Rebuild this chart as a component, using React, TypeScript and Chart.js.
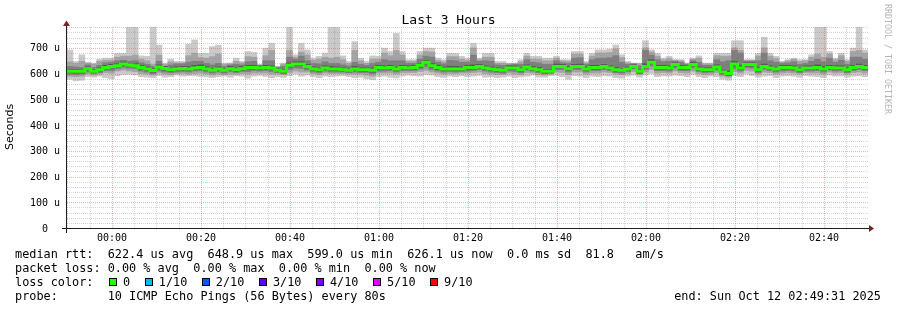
import React, { useEffect, useRef } from 'react';
import { Chart, registerables } from 'chart.js';

Chart.register(...registerables);

// ---------------- data ----------------
const TITLE = 'Last 3 Hours';
const Y_TITLE = 'Seconds';
const STEP_SECONDS = 80;
const WINDOW_START_MIN = -10.1; // minutes relative to 00:00
const WINDOW_END_MIN = 169.9;
const Y_MAX = 785; // microseconds

const xTickMinutes = [0, 20, 40, 60, 80, 100, 120, 140, 160];
const xTickLabels = ['00:00', '00:20', '00:40', '01:00', '01:20', '01:40', '02:00', '02:20', '02:40'];
const yTickValues = [0, 100, 200, 300, 400, 500, 600, 700];
const yTickLabels = ['0  ', '100 u', '200 u', '300 u', '400 u', '500 u', '600 u', '700 u'];

// median RTT per 80 s step (microseconds)
const medianRtt = [
  609, 609, 609, 619, 609, 615, 624, 628, 631, 637, 633, 631, 624, 618, 612,
  626, 620, 615, 618, 620, 618, 622, 624, 618, 613, 618, 613, 619, 615, 619,
  624, 624, 622, 624, 622, 613, 609, 632, 637, 637, 628, 618, 615, 622, 618,
  618, 615, 613, 618, 615, 615, 613, 624, 622, 624, 618, 624, 622, 624, 632,
  644, 631, 624, 618, 618, 618, 618, 624, 624, 628, 622, 618, 615, 613, 622,
  622, 615, 626, 619, 615, 609, 609, 628, 628, 619, 628, 628, 618, 624, 624,
  628, 622, 615, 613, 618, 628, 609, 628, 644, 624, 624, 622, 635, 624, 624,
  635, 618, 615, 615, 626, 606, 600, 637, 622, 635, 635, 615, 628, 622, 618,
  624, 624, 622, 615, 622, 622, 624, 618, 624, 622, 622, 615, 624, 628, 624,
];
// slowest ping per step
const pingMax = [
  692, 647, 673, 644, 641, 656, 660, 660, 679, 679, 780, 780, 669, 667, 780,
  711, 641, 656, 647, 647, 715, 731, 679, 679, 705, 711, 641, 641, 660, 647,
  686, 682, 635, 699, 718, 628, 641, 780, 673, 718, 692, 660, 667, 680, 780,
  780, 669, 647, 724, 660, 647, 669, 667, 699, 686, 756, 686, 654, 654, 686,
  699, 699, 660, 654, 679, 679, 667, 660, 718, 660, 679, 679, 647, 647, 641,
  641, 654, 679, 667, 667, 660, 660, 667, 654, 654, 686, 686, 647, 679, 692,
  692, 695, 711, 673, 647, 641, 641, 728, 692, 679, 660, 667, 654, 654, 641,
  660, 669, 641, 641, 679, 679, 679, 728, 728, 654, 654, 679, 741, 679, 667,
  647, 654, 660, 654, 654, 673, 780, 780, 686, 660, 679, 654, 699, 780, 692,
];
// fastest ping per step
const pingMin = [
  578, 572, 574, 588, 586, 590, 584, 580, 592, 596, 597, 595, 588, 586, 584,
  592, 586, 588, 594, 590, 592, 591, 589, 587, 584, 588, 590, 586, 592, 590,
  582, 590, 593, 589, 584, 588, 585, 592, 598, 590, 594, 588, 584, 590, 588,
  590, 592, 588, 584, 586, 580, 576, 588, 590, 586, 583, 590, 594, 592, 590,
  596, 594, 588, 585, 590, 588, 592, 588, 590, 593, 586, 588, 584, 586, 590,
  584, 587, 590, 594, 586, 586, 592, 593, 588, 578, 592, 590, 584, 590, 588,
  592, 590, 584, 582, 590, 594, 586, 594, 600, 588, 591, 590, 594, 592, 588,
  597, 588, 584, 590, 588, 578, 574, 592, 588, 598, 592, 586, 590, 592, 584,
  590, 592, 590, 586, 592, 590, 588, 584, 594, 590, 591, 586, 590, 592, 588,
];
// 2nd fastest / 2nd slowest ping
const ping2 = [
  590, 588, 590, 598, 594, 598, 604, 602, 610, 614, 610, 608, 600, 598, 594,
  602, 598, 596, 600, 600, 598, 600, 602, 598, 594, 598, 596, 598, 598, 600,
  598, 602, 602, 602, 598, 598, 596, 604, 610, 606, 606, 600, 596, 602, 600,
  600, 600, 598, 598, 598, 594, 590, 602, 602, 602, 598, 604, 604, 604, 608,
  612, 606, 602, 598, 600, 600, 602, 602, 604, 606, 600, 598, 596, 596, 602,
  598, 596, 604, 602, 596, 594, 598, 606, 604, 596, 606, 606, 598, 602, 602,
  606, 604, 598, 596, 600, 608, 596, 606, 616, 602, 604, 602, 610, 604, 602,
  610, 600, 596, 598, 604, 590, 586, 608, 602, 612, 610, 598, 606, 604, 598,
  602, 604, 602, 598, 604, 602, 602, 598, 606, 602, 604, 598, 604, 606, 602,
];
const ping9 = [
  646, 640, 648, 640, 636, 648, 652, 652, 664, 668, 668, 672, 656, 650, 636,
  672, 636, 646, 642, 642, 670, 680, 662, 660, 666, 676, 636, 638, 648, 642,
  666, 664, 634, 670, 690, 626, 636, 690, 664, 684, 672, 652, 656, 664, 660,
  664, 654, 640, 690, 650, 640, 656, 656, 680, 670, 690, 672, 648, 648, 672,
  686, 684, 652, 646, 666, 666, 656, 652, 700, 654, 664, 664, 640, 640, 638,
  639, 646, 668, 656, 656, 650, 650, 660, 650, 648, 676, 676, 642, 668, 680,
  680, 682, 696, 662, 642, 640, 638, 700, 684, 668, 654, 658, 652, 650, 639,
  656, 660, 638, 638, 670, 668, 668, 700, 690, 652, 652, 668, 700, 668, 658,
  645, 650, 656, 648, 650, 664, 676, 664, 676, 654, 670, 648, 686, 690, 680,
];
// 3rd fastest / 3rd slowest ping
const ping3 = [
  597, 596, 598, 606, 600, 604, 612, 612, 618, 624, 621, 620, 610, 606, 600,
  610, 606, 604, 606, 608, 606, 610, 612, 606, 602, 606, 602, 608, 604, 608,
  608, 612, 610, 612, 608, 604, 600, 616, 622, 620, 614, 606, 604, 610, 606,
  606, 606, 604, 606, 604, 604, 600, 610, 610, 612, 606, 612, 612, 612, 618,
  626, 616, 610, 606, 608, 606, 608, 610, 612, 616, 610, 606, 604, 602, 610,
  608, 604, 614, 610, 604, 600, 602, 616, 616, 606, 616, 616, 606, 612, 612,
  616, 612, 604, 602, 608, 618, 600, 616, 630, 612, 612, 610, 622, 612, 612,
  622, 608, 604, 606, 614, 596, 592, 620, 610, 624, 622, 604, 616, 612, 606,
  610, 612, 610, 604, 610, 610, 612, 606, 614, 610, 612, 604, 612, 616, 612,
];
const ping8 = [
  628, 626, 624, 634, 624, 632, 642, 644, 650, 652, 648, 650, 642, 636, 628,
  648, 628, 634, 638, 638, 644, 648, 648, 640, 634, 640, 628, 634, 636, 634,
  646, 648, 632, 650, 650, 624, 628, 664, 656, 668, 650, 640, 638, 646, 640,
  640, 634, 630, 644, 636, 632, 640, 644, 654, 650, 650, 650, 640, 640, 656,
  668, 664, 644, 638, 652, 650, 644, 644, 672, 648, 650, 648, 634, 632, 634,
  636, 636, 654, 644, 642, 636, 636, 650, 642, 640, 660, 662, 636, 654, 660,
  660, 662, 670, 644, 636, 638, 630, 690, 672, 654, 646, 648, 648, 644, 636,
  650, 644, 632, 632, 654, 646, 650, 690, 680, 648, 648, 650, 680, 650, 644,
  640, 642, 646, 636, 640, 648, 656, 646, 660, 644, 652, 636, 664, 664, 656,
];
// 4th fastest / 4th slowest ping
const ping4 = [
  604, 603, 603, 613, 604, 610, 619, 622, 626, 631, 628, 626, 618, 612, 606,
  620, 614, 609, 612, 614, 612, 616, 618, 612, 607, 612, 607, 613, 609, 613,
  618, 618, 616, 618, 616, 607, 603, 626, 631, 631, 622, 612, 609, 616, 612,
  612, 609, 607, 612, 609, 609, 606, 618, 616, 618, 612, 618, 616, 618, 625,
  637, 624, 617, 612, 612, 612, 612, 617, 618, 622, 616, 612, 609, 607, 616,
  616, 609, 620, 613, 609, 603, 603, 622, 622, 613, 622, 622, 612, 618, 618,
  622, 616, 609, 607, 612, 622, 603, 622, 638, 618, 618, 616, 629, 618, 618,
  629, 612, 609, 609, 620, 600, 594, 631, 616, 629, 629, 609, 622, 616, 612,
  618, 618, 616, 609, 616, 616, 618, 612, 618, 616, 616, 609, 618, 622, 618,
];
const ping7 = [
  616, 616, 615, 626, 616, 622, 632, 636, 639, 645, 640, 640, 632, 626, 620,
  634, 628, 622, 626, 628, 628, 632, 634, 626, 620, 626, 620, 628, 622, 628,
  632, 632, 628, 632, 630, 619, 616, 642, 646, 646, 636, 626, 622, 630, 628,
  626, 622, 620, 628, 622, 622, 622, 632, 630, 632, 626, 632, 630, 632, 640,
  652, 640, 632, 626, 628, 628, 626, 632, 634, 636, 630, 626, 622, 620, 630,
  630, 622, 634, 628, 624, 616, 616, 638, 636, 628, 636, 638, 626, 632, 632,
  636, 630, 624, 620, 626, 634, 616, 640, 654, 632, 632, 630, 642, 632, 630,
  644, 626, 622, 622, 634, 614, 610, 648, 632, 642, 642, 624, 638, 630, 626,
  632, 632, 630, 622, 630, 630, 634, 628, 632, 630, 630, 622, 632, 638, 632,
];

// summary legend values
const rttStats = [622.4, 648.9, 599.0, 626.1]; // avg, max, min, now (us)
const rttSdMs = 0.0;
const rttAmPerS = 81.8;
const lossStats = [0, 0, 0, 0]; // avg, max, min, now (%)
const lossLabels = ['0', '1/10', '2/10', '3/10', '4/10', '5/10', '9/10'];
const lossColors = ['#26ff00', '#00b8ff', '#0059ff', '#5e00ff', '#7e00ff', '#dd00ff', '#ff0000'];
const probeText = '10 ICMP Echo Pings (56 Bytes) every 80s';
const endText = 'end: Sun Oct 12 02:49:31 2025';
const watermark = 'RRDTOOL / TOBI OETIKER';

// ---------------- drawing helpers ----------------
const MONO = '"DejaVu Sans Mono", monospace';

function drawGrid(chart: any) {
  const { ctx, chartArea: a, scales } = chart;
  const xs = scales.x;
  const ys = scales.y;
  ctx.save();
  ctx.beginPath();
  ctx.rect(a.left, a.top, a.right - a.left, a.bottom - a.top);
  ctx.clip();
  ctx.lineWidth = 1;
  ctx.setLineDash([1, 1]);
  const minor = 'rgba(143,143,143,0.38)';
  const major = 'rgba(222,79,79,0.42)';
  const vline = (t: number, c: string) => {
    const px = Math.round(xs.getPixelForValue(t)) + 0.5;
    ctx.strokeStyle = c;
    ctx.beginPath();
    ctx.moveTo(px, a.bottom);
    ctx.lineTo(px, a.top);
    ctx.stroke();
  };
  const hline = (v: number, c: string) => {
    const py = Math.round(ys.getPixelForValue(v)) + 0.5;
    ctx.strokeStyle = c;
    ctx.beginPath();
    ctx.moveTo(a.left, py);
    ctx.lineTo(a.right, py);
    ctx.stroke();
  };
  for (let t = Math.ceil(WINDOW_START_MIN / 5) * 5; t <= WINDOW_END_MIN; t += 5) {
    if (t % 20 !== 0) vline(t, minor);
  }
  for (let v = 20; v <= Y_MAX; v += 20) {
    if (v % 100 !== 0) hline(v, minor);
  }
  xTickMinutes.forEach((t) => vline(t, major));
  yTickValues.forEach((v) => { if (v > 0) hline(v, major); });
  ctx.restore();
}

function drawFrame(chart: any) {
  const { ctx, chartArea: a } = chart;
  ctx.save();
  ctx.setLineDash([]);
  ctx.lineWidth = 1;
  ctx.strokeStyle = '#1f1f1f';
  const ax = a.left - 0.5;
  const ay = a.bottom + 0.5;
  ctx.beginPath();
  ctx.moveTo(a.left - 5, ay);
  ctx.lineTo(a.right + 1, ay);
  ctx.stroke();
  ctx.beginPath();
  ctx.moveTo(ax, a.bottom + 5);
  ctx.lineTo(ax, a.top - 1);
  ctx.stroke();
  ctx.fillStyle = '#801f1f';
  ctx.beginPath();
  ctx.moveTo(a.right + 1, ay - 3.5);
  ctx.lineTo(a.right + 6, ay);
  ctx.lineTo(a.right + 1, ay + 3.5);
  ctx.closePath();
  ctx.fill();
  ctx.beginPath();
  ctx.moveTo(ax - 3.5, a.top);
  ctx.lineTo(ax, a.top - 5.5);
  ctx.lineTo(ax + 3.5, a.top);
  ctx.closePath();
  ctx.fill();
  ctx.restore();
}

function drawTexts(chart: any) {
  const { ctx } = chart;
  ctx.save();
  ctx.fillStyle = '#000';
  ctx.textBaseline = 'alphabetic';
  ctx.font = `13px ${MONO}`;
  ctx.textAlign = 'center';
  ctx.fillText(TITLE, chart.width / 2, 24);

  const LX = 15;
  const CW = 7.134;
  ctx.font = `11.85px ${MONO}`;
  ctx.textAlign = 'left';
  const f1 = (n: number) => n.toFixed(1);
  const f2 = (n: number) => n.toFixed(2);
  const line1 = `median rtt:  ${f1(rttStats[0])} us avg  ${f1(rttStats[1])} us max  ${f1(rttStats[2])} us min  ${f1(rttStats[3])} us now  ${f1(rttSdMs)} ms sd  ${f1(rttAmPerS)}   am/s`;
  const line2 = `packet loss: ${f2(lossStats[0])} % avg  ${f2(lossStats[1])} % max  ${f2(lossStats[2])} % min  ${f2(lossStats[3])} % now`;
  ctx.fillText(line1, LX, 258);
  ctx.fillText(line2, LX, 272);
  ctx.fillText('loss color:', LX, 286);
  let col = 13.2;
  lossLabels.forEach((lab, i) => {
    const sx = Math.round(LX + col * CW);
    ctx.fillStyle = lossColors[i];
    ctx.fillRect(sx, 278, 8, 8);
    ctx.strokeStyle = '#000';
    ctx.lineWidth = 1;
    ctx.strokeRect(sx + 0.5, 278.5, 7, 7);
    ctx.fillStyle = '#000';
    ctx.fillText(lab, LX + (col + 1.95) * CW, 286);
    col += 1.95 + lab.length + 2.05;
  });
  ctx.fillText(`probe:       ${probeText}`, LX, 300);
  ctx.textAlign = 'right';
  ctx.fillText(endText, 881, 300);

  ctx.translate(887.5, 4);
  ctx.rotate(Math.PI / 2);
  ctx.font = `8.3px ${MONO}`;
  ctx.fillStyle = '#b4b4b4';
  ctx.textAlign = 'left';
  ctx.textBaseline = 'middle';
  ctx.fillText(watermark, 0, 0);
  ctx.restore();
}

const rrdPlugin = {
  id: 'rrdLook',
  beforeDatasetDraw(chart: any, args: any) {
    if (args.index === 0) drawGrid(chart);
  },
  afterDraw(chart: any) {
    drawFrame(chart);
    drawTexts(chart);
  },
};

export default function App() {
  const ref = useRef<HTMLCanvasElement>(null);

  useEffect(() => {
    document.body.style.margin = '0';
    const canvas = ref.current;
    if (!canvas) return;
    const stepMin = STEP_SECONDS / 60;
    const center = (i: number) => WINDOW_START_MIN + (i + 0.5) * stepMin;
    const band = (lo: number[], hi: number[]) => lo.map((v, i) => ({ x: center(i), y: [v, hi[i]] }));
    const medianPts = medianRtt.map((v, i) => ({ x: WINDOW_START_MIN + i * stepMin, y: v }));
    medianPts.push({ x: WINDOW_START_MIN + medianRtt.length * stepMin, y: medianRtt[medianRtt.length - 1] });

    const barCommon = {
      barPercentage: 1,
      categoryPercentage: 1,
      borderWidth: 0,
      grouped: false,
    };

    const chart = new Chart(canvas, {
      type: 'bar',
      data: {
        datasets: [
          {
            type: 'line',
            label: 'median',
            data: medianPts,
            borderColor: lossColors[0],
            borderWidth: 3,
            pointRadius: 0,
            stepped: 'before',
            fill: false,
            tension: 0,
            borderCapStyle: 'butt',
            borderJoinStyle: 'miter',
          } as any,
          { label: 'p4-p7', data: band(ping4, ping7), backgroundColor: '#585858', ...barCommon } as any,
          { label: 'p3-p8', data: band(ping3, ping8), backgroundColor: '#7e7e7e', ...barCommon } as any,
          { label: 'p2-p9', data: band(ping2, ping9), backgroundColor: '#a4a4a4', ...barCommon } as any,
          { label: 'min-max', data: band(pingMin, pingMax), backgroundColor: '#cacaca', ...barCommon } as any,
        ],
      },
      options: {
        responsive: false,
        animation: false,
        devicePixelRatio: 1,
        events: [],
        layout: { padding: { left: 0, top: 26, right: 29, bottom: 0 } },
        plugins: {
          legend: { display: false },
          tooltip: { enabled: false },
          title: { display: false },
        },
        scales: {
          x: {
            type: 'linear',
            min: WINDOW_START_MIN,
            max: WINDOW_END_MIN,
            offset: false,
            grid: { display: false, drawTicks: false, offset: false },
            border: { display: false },
            afterFit: (s: any) => { s.height = 82; },
            afterBuildTicks: (s: any) => { s.ticks = xTickMinutes.map((v) => ({ value: v })); },
            ticks: {
              autoSkip: false,
              maxRotation: 0,
              minRotation: 0,
              padding: 4,
              color: '#000',
              font: { family: 'DejaVu Sans Mono', size: 10 },
              callback: (v: any) => {
                const k = xTickMinutes.indexOf(Number(v));
                return k >= 0 ? xTickLabels[k] : '';
              },
            },
          },
          y: {
            type: 'linear',
            min: 0,
            max: Y_MAX,
            grid: { display: false, drawTicks: false },
            border: { display: false },
            afterFit: (s: any) => { s.width = 67; },
            afterBuildTicks: (s: any) => { s.ticks = yTickValues.map((v) => ({ value: v })); },
            ticks: {
              padding: 7,
              labelOffset: 1,
              color: '#000',
              font: { family: 'DejaVu Sans Mono', size: 10 },
              callback: (v: any) => {
                const k = yTickValues.indexOf(Number(v));
                return k >= 0 ? yTickLabels[k] : '';
              },
            },
            title: {
              display: true,
              text: Y_TITLE,
              color: '#000',
              font: { family: 'DejaVu Sans', size: 11 },
              padding: { top: 4, bottom: 0 },
            },
          },
        },
      } as any,
      plugins: [rrdPlugin],
    });
    return () => chart.destroy();
  }, []);

  return (
    <div style={{ position: 'absolute', left: 0, top: 0, width: 897, height: 310, background: '#fff' }}>
      <canvas ref={ref} width={897} height={310} style={{ display: 'block', width: 897, height: 310 }} />
    </div>
  );
}
